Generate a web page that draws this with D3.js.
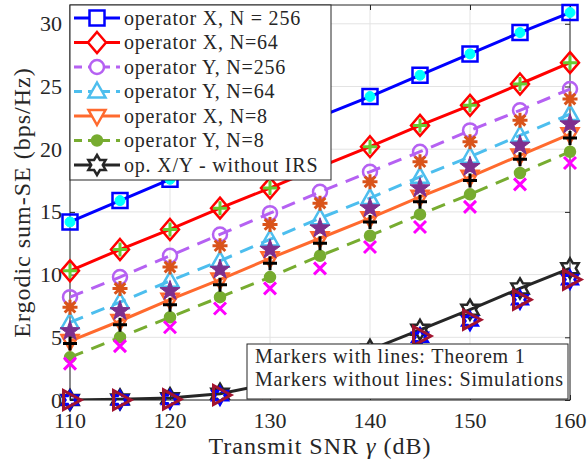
<!DOCTYPE html>
<html>
<head>
<meta charset="utf-8">
<script src="https://cdn.jsdelivr.net/npm/d3@7"></script>
<style>
  body { margin: 0; background: #fff; }
  text { font-family: "Liberation Serif", "Times New Roman", serif; fill: #262626; }
</style>
</head>
<body>
<svg id="chart" width="587" height="466"></svg>
<script>
// transmit SNR (dB)
var snr = [110, 115, 120, 125, 130, 135, 140, 145, 150, 155, 160];
var xTicks = [110, 120, 130, 140, 150, 160];
var yTicks = [0, 5, 10, 15, 20, 25, 30];

// Theorem 1 (markers with lines)
var opX256 = [14.2, 15.9, 17.6, 19.3, 20.9, 22.6, 24.2, 25.9, 27.6, 29.3, 30.9];
var opX64  = [10.3, 12.0, 13.6, 15.3, 16.9, 18.6, 20.2, 21.9, 23.5, 25.2, 26.9];
var opY256 = [8.2, 9.8, 11.5, 13.2, 14.9, 16.6, 18.2, 19.8, 21.5, 23.1, 24.8];
var opY64  = [6.2, 7.8, 9.5, 11.1, 12.8, 14.5, 16.1, 17.8, 19.4, 21.1, 22.8];
var opX8   = [4.7, 6.3, 8.0, 9.6, 11.3, 12.9, 14.5, 16.2, 17.8, 19.5, 21.2];
var opY8   = [3.4, 5.0, 6.6, 8.2, 9.8, 11.5, 13.1, 14.8, 16.4, 18.1, 19.8];
var noIRS  = [0.0, 0.05, 0.15, 0.5, 1.3, 2.6, 4.0, 5.6, 7.2, 8.9, 10.5];

// simulations (markers without lines)
var simX256 = [14.2, 15.9, 17.6, 19.3, 20.9, 22.6, 24.2, 25.9, 27.6, 29.3, 30.9];
var simX64  = [10.3, 12.0, 13.6, 15.3, 16.9, 18.6, 20.2, 21.9, 23.5, 25.2, 26.9];
var simY256 = [7.4, 8.9, 10.6, 12.3, 14.0, 15.7, 17.4, 19.0, 20.6, 22.3, 24.0];
var simY64  = [5.5, 7.1, 8.7, 10.4, 12.0, 13.7, 15.3, 16.9, 18.6, 20.3, 22.0];
var simX8   = [4.5, 6.0, 7.6, 9.2, 10.9, 12.5, 14.2, 15.8, 17.5, 19.2, 20.9];
var simY8   = [2.9, 4.3, 5.8, 7.3, 8.9, 10.5, 12.2, 13.8, 15.4, 17.2, 18.9];
var simNoX  = [0.0, 0.0, 0.05, 0.35, 1.0, 2.0, 3.4, 5.0, 6.3, 8.0, 9.6];
var simNoY  = [0.0, 0.0, 0.05, 0.4, 1.0, 2.1, 3.5, 5.1, 6.4, 8.0, 9.6];

var legendLabels = ['operator X, N = 256', 'operator X, N=64', 'operator Y, N=256',
  'operator Y, N=64', 'operator X, N=8', 'operator Y, N=8', 'op. X/Y - without IRS'];
var noteLines = ['Markers with lines: Theorem 1', 'Markers without lines: Simulations'];

var plotL = 70, plotR = 570, plotT = 5, plotB = 400;

var x = d3.scaleLinear().domain([110, 160]).range([plotL, plotR]);
var y = d3.scaleLinear().domain([0, 31.5]).range([plotB, plotT]);

var svg = d3.select('#chart');

// marker shapes
function star(n, ro, ri) {
	var p = [];
	for (var k = 0; k < 2 * n; k++) {
		var r = k % 2 == 0 ? ro : ri;
		var a = -Math.PI / 2 + k * Math.PI / n;
		p.push([r * Math.cos(a), r * Math.sin(a)]);
	}
	return 'M' + p.map(function (q) { return q[0].toFixed(2) + ',' + q[1].toFixed(2) }).join('L') + 'Z';
}
function shape(t) {
	if (t == 'square') return 'M-7.5,-7.5H7.5V7.5H-7.5Z';
	if (t == 'diamond') return 'M0,-10.5L9,0L0,10.5L-9,0Z';
	if (t == 'circle') return d3.symbol(d3.symbolCircle, Math.PI * 49)();
	if (t == 'dot') return d3.symbol(d3.symbolCircle, Math.PI * 25)();
	if (t == 'up') return 'M0,-9L8.5,6L-8.5,6Z';
	if (t == 'down') return 'M0,9L8.5,-6L-8.5,-6Z';
	if (t == 'right') return 'M11,0L-6.5,-9.5L-6.5,9.5Z';
	if (t == 'plus') return 'M-7,0H7M0,-7V7';
	if (t == 'cross') return 'M-6,-6L6,6M-6,6L6,-6';
	if (t == 'aster') return 'M-7.5,0H7.5M0,-7.5V7.5M-5.3,-5.3L5.3,5.3M-5.3,5.3L5.3,-5.3';
	if (t == 'penta') return star(5, 10.5, 4.2);
	if (t == 'hexa') return star(6, 10, 5.8);
	if (t == 'hexs') return star(6, 8.5, 4.8);
}

var lineSeries = [
	{ v: opX256, color: '#0000ff', dash: null, m: 'square', fill: 'none' },
	{ v: opX64, color: '#ff0000', dash: null, m: 'diamond', fill: 'none' },
	{ v: opY256, color: '#b561f2', dash: '14,9', m: 'circle', fill: 'none' },
	{ v: opY64, color: '#4dbeee', dash: '14,9', m: 'up', fill: 'none' },
	{ v: opX8, color: '#ff6a2e', dash: null, m: 'down', fill: 'none' },
	{ v: opY8, color: '#77ac30', dash: '14,9', m: 'dot', fill: '#77ac30' },
	{ v: noIRS, color: '#262626', dash: null, m: 'hexa', fill: 'none' }
];

var simSeries = [
	{ v: simX256, color: '#0000ff', m: 'dot', fill: '#00ffff', sw: 1 },
	{ v: simX64, color: '#66cc33', m: 'plus', fill: 'none', sw: 3 },
	{ v: simY256, color: '#d95319', m: 'aster', fill: 'none', sw: 3 },
	{ v: simY64, color: '#7e2f8e', m: 'penta', fill: '#7e2f8e', sw: 1 },
	{ v: simX8, color: '#000000', m: 'plus', fill: 'none', sw: 3 },
	{ v: simY8, color: '#ff00ff', m: 'cross', fill: 'none', sw: 3 },
	{ v: simNoX, color: '#0000ff', m: 'hexs', fill: 'none', sw: 3 },
	{ v: simNoY, color: '#a2142f', m: 'right', fill: 'none', sw: 3 }
];

// grid
svg.append('g').selectAll('line').data(xTicks).enter().append('line')
	.attr('x1', function (d) { return x(d) }).attr('x2', function (d) { return x(d) })
	.attr('y1', plotT).attr('y2', plotB)
	.attr('stroke', '#e3e3e3').attr('stroke-width', 1);
svg.append('g').selectAll('line').data(yTicks).enter().append('line')
	.attr('y1', function (d) { return y(d) }).attr('y2', function (d) { return y(d) })
	.attr('x1', plotL).attr('x2', plotR)
	.attr('stroke', '#e3e3e3').attr('stroke-width', 1);

// axes (inward ticks on all sides)
var ax = svg.append('g').attr('class', 'axes');
ax.append('g').attr('transform', 'translate(0,' + plotB + ')')
	.call(d3.axisTop(x).tickValues(xTicks).tickSize(5).tickFormat(''));
ax.append('g').attr('transform', 'translate(0,' + plotT + ')')
	.call(d3.axisBottom(x).tickValues(xTicks).tickSize(5).tickFormat(''));
ax.append('g').attr('transform', 'translate(' + plotL + ',0)')
	.call(d3.axisRight(y).tickValues(yTicks).tickSize(5).tickFormat(''));
ax.append('g').attr('transform', 'translate(' + plotR + ',0)')
	.call(d3.axisLeft(y).tickValues(yTicks).tickSize(5).tickFormat(''));
ax.selectAll('.domain').remove();
ax.selectAll('line').attr('stroke', '#262626');

svg.append('rect').attr('x', plotL).attr('y', plotT)
	.attr('width', plotR - plotL).attr('height', plotB - plotT)
	.attr('fill', 'none').attr('stroke', '#262626').attr('stroke-width', 1);

// tick labels
svg.append('g').selectAll('text').data(xTicks).enter().append('text')
	.attr('x', function (d) { return x(d) }).attr('y', plotB + 28)
	.attr('text-anchor', 'middle').attr('font-size', 22)
	.text(function (d) { return d });
svg.append('g').selectAll('text').data(yTicks).enter().append('text')
	.attr('x', plotL - 8).attr('y', function (d) { return y(d) + 7.5 })
	.attr('text-anchor', 'end').attr('font-size', 22)
	.text(function (d) { return d });

svg.append('text').attr('x', (plotL + plotR) / 2).attr('y', 454)
	.attr('text-anchor', 'middle').attr('font-size', 24).attr('letter-spacing', 1)
	.html('Transmit SNR <tspan font-style="italic">γ</tspan> (dB)');
svg.append('text').attr('transform', 'translate(30,' + ((plotT + plotB) / 2) + ') rotate(-90)')
	.attr('text-anchor', 'middle').attr('font-size', 24).attr('letter-spacing', 1)
	.text('Ergodic sum-SE (bps/Hz)');

// curves
var plot = svg.append('g');
plot.append('clipPath').attr('id', 'clip').append('rect')
	.attr('x', plotL).attr('y', plotT).attr('width', plotR - plotL).attr('height', plotB - plotT);

var line = d3.line().x(function (d, k) { return x(snr[k]) }).y(function (d) { return y(d) });

lineSeries.forEach(function (s) {
	plot.append('path').attr('d', line(s.v))
		.attr('fill', 'none').attr('stroke', s.color).attr('stroke-width', 3)
		.attr('stroke-dasharray', s.dash).attr('clip-path', 'url(#clip)');
});
lineSeries.forEach(function (s) {
	plot.append('g').selectAll('path').data(s.v).enter().append('path')
		.attr('d', shape(s.m))
		.attr('transform', function (d, k) { return 'translate(' + x(snr[k]) + ',' + y(d) + ')' })
		.attr('fill', s.fill).attr('stroke', s.color).attr('stroke-width', 2.5);
});
simSeries.forEach(function (s) {
	plot.append('g').selectAll('path').data(s.v).enter().append('path')
		.attr('d', shape(s.m))
		.attr('transform', function (d, k) { return 'translate(' + x(snr[k]) + ',' + y(d) + ')' })
		.attr('fill', s.fill).attr('stroke', s.m == 'dot' ? s.fill : s.color)
		.attr('stroke-width', s.sw).attr('stroke-linejoin', 'miter');
});

// legend
var lg = svg.append('g');
lg.append('rect').attr('x', plotL).attr('y', plotT).attr('width', 261).attr('height', 175)
	.attr('fill', '#fff').attr('stroke', '#262626').attr('stroke-width', 1);
lineSeries.forEach(function (s, k) {
	var cy = 18 + k * 24.5;
	lg.append('line').attr('x1', 74).attr('x2', 120).attr('y1', cy).attr('y2', cy)
		.attr('stroke', s.color).attr('stroke-width', 3).attr('stroke-dasharray', s.dash ? '8,6' : null);
	lg.append('path').attr('d', shape(s.m)).attr('transform', 'translate(97,' + cy + ')')
		.attr('fill', s.fill == 'none' ? '#fff' : s.fill).attr('stroke', s.color).attr('stroke-width', 2.5);
	lg.append('text').attr('x', 124).attr('y', cy + 6.5).attr('font-size', 20).attr('letter-spacing', 0.8)
		.text(legendLabels[k]);
});

// note box
var nb = svg.append('g');
nb.append('rect').attr('x', 247).attr('y', 344).attr('width', 321).attr('height', 55)
	.attr('fill', '#fff').attr('stroke', '#262626').attr('stroke-width', 1);
nb.selectAll('text').data(noteLines).enter().append('text')
	.attr('x', 255).attr('y', function (d, k) { return 363 + k * 23 })
	.attr('font-size', 20).attr('letter-spacing', 0.8)
	.text(function (d) { return d });
</script>
</body>
</html>
